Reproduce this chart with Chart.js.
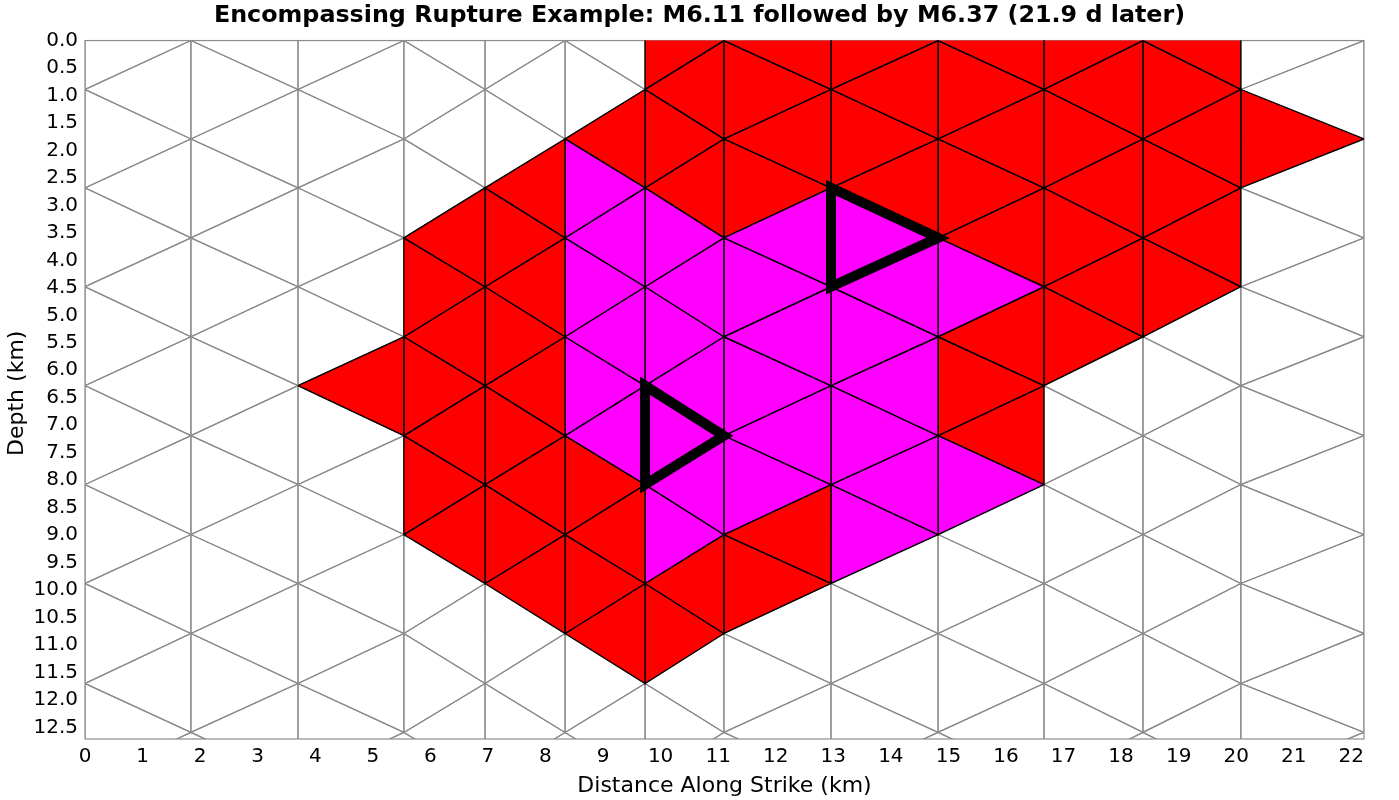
<!DOCTYPE html>
<html>
<head>
<meta charset="utf-8">
<title>Encompassing Rupture Example</title>
<script src="https://cdn.jsdelivr.net/npm/chart.js@4"></script>
<style>
  html, body { margin: 0; padding: 0; background: #fff; }
  #wrap { width: 1399px; height: 800px; }
</style>
</head>
<body>
<div id="wrap"><canvas id="ruptureChart" width="1399" height="800"></canvas></div>
<script>
const chartTitle = 'Encompassing Rupture Example: M6.11 followed by M6.37 (21.9 d later)';
const xAxisTitle = 'Distance Along Strike (km)';
const yAxisTitle = 'Depth (km)';

// mesh columns, km along strike
const columnX = [0, 1.84, 3.70, 5.54, 6.95, 8.34, 9.73, 11.10, 12.96, 14.82, 16.66, 18.38, 20.08, 22.22];
// mesh depth levels, km. index 0 sits above the plot, the last one below it
const depthLevels = [-0.90, 0, 0.89, 1.79, 2.68, 3.59, 4.48, 5.39, 6.28, 7.19, 8.08, 8.99, 9.88, 10.79, 11.70, 12.59, 13.49];

// cells per column strip, numbered by depth level of the cell centre (0 = surface)
const redCells = [
  [], [], [7], [4, 5, 6, 7, 8, 9, 10], [3, 4, 5, 6, 7, 8, 9, 10, 11],
  [2, 9, 10, 11, 12], [0, 1, 2, 3, 11, 12], [0, 1, 2, 3, 10, 11], [0, 1, 2, 3],
  [0, 1, 2, 3, 4, 6, 7, 8], [0, 1, 2, 3, 4, 5, 6], [0, 1, 2, 3, 4, 5], [2]
];
const magentaCells = [
  [], [], [], [], [],
  [3, 4, 5, 6, 7, 8], [4, 5, 6, 7, 8, 9, 10], [4, 5, 6, 7, 8, 9], [4, 5, 6, 7, 8, 9, 10],
  [5, 9], [], [], []
];
// the two ruptures, same numbering as the cells: [strip, level]
const ruptureCells = [[8, 4], [6, 8]];

const xMax = 22.22;
const yMax = 12.71;

const cellPoints = (strip, level) => {
  const pt = (c, l) => ({ x: columnX[c], y: depthLevels[l + 1] });
  if ((strip + level) % 2 !== 0) {
    return [pt(strip, level), pt(strip + 1, level - 1), pt(strip + 1, level + 1), pt(strip, level)];
  }
  return [pt(strip + 1, level), pt(strip, level - 1), pt(strip, level + 1), pt(strip + 1, level)];
};

const cellDataset = (strip, level, fillColor, lineColor) => ({
  data: cellPoints(strip, level),
  showLine: true,
  fill: fillColor ? 'shape' : false,
  backgroundColor: fillColor || 'transparent',
  borderColor: lineColor,
  borderWidth: fillColor ? 1.4 : 1.2,
  borderJoinStyle: 'miter',
  pointRadius: 0,
  tension: 0
});

const datasets = [];

// thick outlines on top, repeat the first side so every corner gets a miter
ruptureCells.forEach(([strip, level]) => {
  const pts = cellPoints(strip, level);
  datasets.push({
    data: pts.concat([pts[1]]),
    showLine: true,
    fill: false,
    borderColor: '#000',
    borderWidth: 10,
    borderJoinStyle: 'miter',
    pointRadius: 0,
    tension: 0
  });
});

columnX.slice(0, -1).forEach((x, strip) => {
  magentaCells[strip].forEach(level => datasets.push(cellDataset(strip, level, '#ff00ff', '#000')));
  redCells[strip].forEach(level => datasets.push(cellDataset(strip, level, '#ff0000', '#000')));
});

// the empty mesh goes underneath everything
columnX.slice(0, -1).forEach((x, strip) => {
  for (let level = -1; level <= 15; level++) {
    if (redCells[strip].includes(level) || magentaCells[strip].includes(level)) continue;
    datasets.push(cellDataset(strip, level, null, '#8c8c8c'));
  }
});

const framePlugin = {
  id: 'plotFrame',
  beforeDatasetsDraw(chart) {
    const { left, top, width, height } = chart.chartArea;
    const ctx = chart.ctx;
    ctx.save();
    ctx.strokeStyle = '#8c8c8c';
    ctx.lineWidth = 1.2;
    ctx.strokeRect(left, top, width, height);
    ctx.restore();
  }
};

new Chart(document.getElementById('ruptureChart'), {
  type: 'scatter',
  data: { datasets },
  plugins: [framePlugin],
  options: {
    responsive: false,
    animation: false,
    plugins: {
      legend: { display: false },
      tooltip: { enabled: false },
      title: {
        display: true,
        text: chartTitle,
        color: '#000',
        font: { family: 'DejaVu Sans', size: 23.8, weight: 'bold' },
        padding: { top: 2, bottom: 10 }
      }
    },
    scales: {
      x: {
        type: 'linear',
        min: 0,
        max: xMax,
        afterFit(scale) { scale.height = 61; },
        grid: { display: false, drawTicks: false },
        border: { display: false },
        title: {
          display: true,
          text: xAxisTitle,
          color: '#000',
          font: { family: 'DejaVu Sans', size: 22 },
          padding: { top: 2, bottom: 1 }
        },
        ticks: {
          stepSize: 1,
          includeBounds: false,
          autoSkip: false,
          maxRotation: 0,
          padding: 6,
          color: '#000',
          font: { family: 'DejaVu Sans', size: 20 }
        }
      },
      y: {
        type: 'linear',
        reverse: true,
        min: 0,
        max: yMax,
        afterFit(scale) { scale.width = 85; },
        grid: { display: false, drawTicks: false },
        border: { display: false },
        title: {
          display: true,
          // trailing space nudges the label down a little, it is not centred on the plot
          text: yAxisTitle + ' ',
          color: '#000',
          font: { family: 'DejaVu Sans', size: 22 },
          padding: { top: 4, bottom: 0 }
        },
        ticks: {
          stepSize: 0.5,
          includeBounds: false,
          autoSkip: false,
          padding: 7,
          color: '#000',
          font: { family: 'DejaVu Sans', size: 20 },
          callback: value => value.toFixed(1)
        }
      },
      // empty axis, only keeps the right margin free so the title stays centred on the page
      rightMargin: {
        type: 'linear',
        position: 'right',
        afterFit(scale) { scale.width = 35; },
        grid: { display: false, drawTicks: false },
        border: { display: false },
        ticks: { display: false }
      }
    }
  }
});
</script>
</body>
</html>
